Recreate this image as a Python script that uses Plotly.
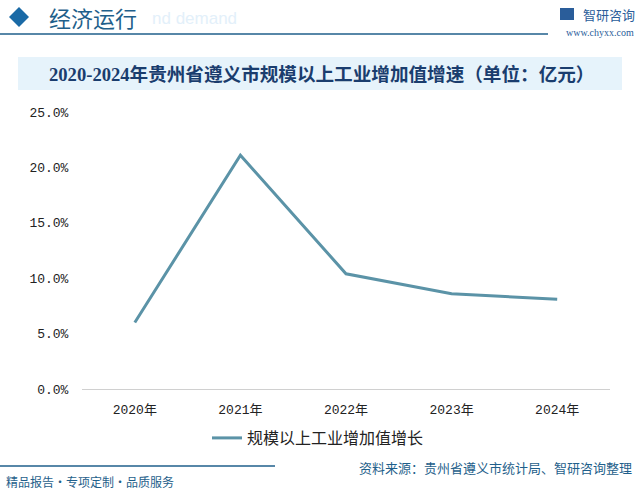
import plotly.graph_objects as go

years = ["2020年", "2021年", "2022年", "2023年", "2024年"]
growth = [6.0, 21.1, 10.4, 8.6, 8.1]
series_name = "规模以上工业增加值增长"
y_ticks = [0, 5, 10, 15, 20, 25]
y_tick_labels = ["0.0%", "5.0%", "10.0%", "15.0%", "20.0%", "25.0%"]

CJK = "Noto Sans CJK SC"
NUM = "Liberation Mono, " + CJK

W, H = 640, 499
L, R, T, B = 82, 30, 112, 110
pw, ph = W - L - R, H - T - B


def px(x):
    return (x - L) / pw


def py(y):
    return (H - B - y) / ph


fig = go.Figure()
fig.add_trace(go.Scatter(
    x=years, y=growth, mode="lines", name=series_name,
    line=dict(color="#5b93a7", width=3),
))

fig.update_layout(
    width=W, height=H,
    paper_bgcolor="white", plot_bgcolor="white",
    margin=dict(l=L, r=R, t=T, b=B, autoexpand=False),
    showlegend=True,
    legend=dict(orientation="h", x=px(318), xanchor="center", y=py(438), yanchor="middle",
                font=dict(family=CJK, size=16, color="#222"), itemwidth=30),
    xaxis=dict(range=[-0.5, 4.5], showgrid=False, showline=True, linecolor="#d0d0d0", linewidth=1,
               ticks="outside", ticklen=8, tickcolor="white",
               tickfont=dict(family=NUM, size=13, color="#222")),
    yaxis=dict(range=[0, 25], tickvals=y_ticks, ticktext=y_tick_labels,
               showgrid=False, zeroline=False, showline=False,
               tickfont=dict(family=NUM, size=13, color="#222"), ticklen=10, ticks="outside",
               tickcolor="white"),
)

fig.update_layout(shapes=[
    dict(type="rect", xref="paper", yref="paper", x0=px(18), x1=px(622), y0=py(90), y1=py(57),
         fillcolor="#e6f3fb", line=dict(width=0), layer="below"),
    dict(type="line", xref="paper", yref="paper", x0=px(0), x1=px(548), y0=py(34), y1=py(34),
         line=dict(color="#1f5f8b", width=1.5)),
    dict(type="path", xref="paper", yref="paper",
         path=f"M {px(9)} {py(17)} L {px(19)} {py(7)} L {px(29)} {py(17)} L {px(19)} {py(27)} Z",
         fillcolor="#1a6aa6", line=dict(width=0)),
    dict(type="line", xref="paper", yref="paper", x0=px(0), x1=px(275), y0=py(466), y1=py(466),
         line=dict(color="#1f5f8b", width=1.5)),
    dict(type="rect", xref="paper", yref="paper", x0=px(560), x1=px(574), y0=py(20), y1=py(8),
         fillcolor="#2a5d9a", line=dict(width=0)),
])

ann = [
    dict(text="经济运行", x=px(47), y=py(17), xanchor="left", yanchor="middle",
         font=dict(family=CJK, size=22, color="#1f5f8b")),
    dict(text="nd demand", x=px(150), y=py(18), xanchor="left", yanchor="middle",
         font=dict(family="Liberation Sans", size=17, color="#e3f0fa")),
    dict(text="智研咨询", x=px(581), y=py(14), xanchor="left", yanchor="middle",
         font=dict(family=CJK, size=13, color="#2a5d9a")),
    dict(text="www.chyxx.com", x=px(636), y=py(33), xanchor="right", yanchor="middle",
         font=dict(family="Liberation Serif", size=10, color="#2a5d9a")),
    dict(text="<b>2020-2024年贵州省遵义市规模以上工业增加值增速（单位：亿元）</b>", x=px(321), y=py(74),
         xanchor="center", yanchor="middle",
         font=dict(family="Liberation Serif, " + CJK, size=18.6, color="#1a3d6e")),
    dict(text="资料来源：贵州省遵义市统计局、智研咨询整理", x=px(634), y=py(467), xanchor="right", yanchor="middle",
         font=dict(family=CJK, size=13, color="#1f5f8b")),
    dict(text="精品报告·专项定制·品质服务", x=px(4), y=py(482), xanchor="left", yanchor="middle",
         font=dict(family=CJK, size=12, color="#1f5f8b")),
]
for a in ann:
    a.update(xref="paper", yref="paper", showarrow=False)
fig.update_layout(annotations=ann)

fig.write_html("out.html", config={"displayModeBar": False})

with open("out.html", "r", encoding="utf-8") as f:
    html = f.read()
html = html.replace("<body>", '<body style="margin:0;padding:0;overflow:hidden">', 1)
with open("out.html", "w", encoding="utf-8") as f:
    f.write(html)
